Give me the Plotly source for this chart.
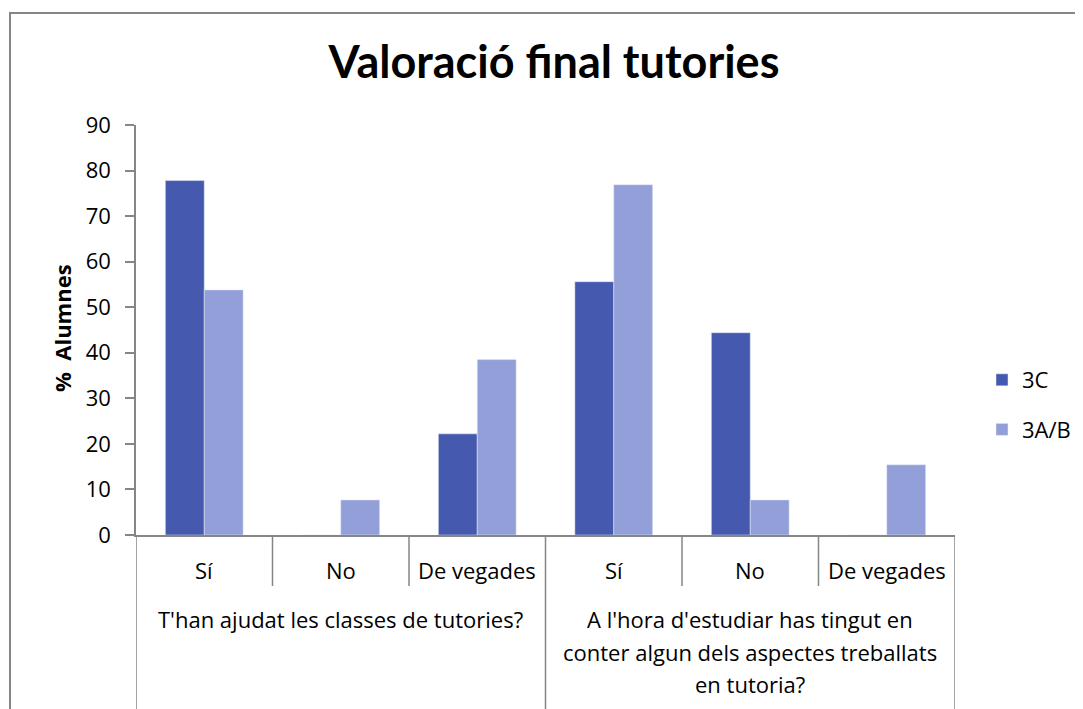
import plotly.graph_objects as go

# data
categories = ["Sí", "No", "De vegades", "Sí", "No", "De vegades"]
group_lines = [
    ["T'han ajudat les classes de tutories?"],
    ["A l'hora d'estudiar has tingut en",
     "conter algun dels aspectes treballats",
     "en tutoria?"],
]
group_size = 3
series_3c = [77.8, 0, 22.2, 55.6, 44.4, 0]
series_3ab = [53.8, 7.7, 38.5, 76.9, 7.7, 15.4]

# the page body has an 8px margin, so the figure starts at (8, 8)
OFF = 8
W, H = 1083 - OFF, 709 - OFF
L, R, T, B = 136, 955, 125, 535   # plot area, in screen pixels
FONT = "Open Sans"
TITLE_FONT = "Lato"
GRAY = "#868686"
FS = 22


def py(pix):
    # screen row -> paper y
    return (B - pix) / (B - T)


def px(pix):
    # screen column -> paper x
    return (pix - L) / (R - L)


xs = list(range(len(categories)))

fig = go.Figure()
fig.add_trace(go.Bar(x=xs, y=series_3c, name="3C", marker_color="#455AAE",
                     legendgroup="a"))
fig.add_trace(go.Bar(x=xs, y=series_3ab, name="3A/B", marker_color="#939FD8",
                     legendgroup="b"))

shapes = []
annotations = []

# subcategory labels and dividers
for i, c in enumerate(categories):
    annotations.append(dict(x=i, y=py(570), xref="x", yref="paper", text=c,
                            yanchor="middle", showarrow=False,
                            font=dict(size=FS, color="black")))
for i in range(len(categories) + 1):
    x = i - 0.5
    major = i % group_size == 0
    shapes.append(dict(type="line", xref="x", yref="paper", x0=x, x1=x,
                       y0=0, y1=py(730 if major else 586),
                       line=dict(color=GRAY, width=1.5)))

# group labels
for g, lines in enumerate(group_lines):
    cx = g * group_size + (group_size - 1) / 2
    for k, line in enumerate(lines):
        annotations.append(dict(x=cx, y=py(619 + 32.5 * k), xref="x", yref="paper",
                                text=line, yanchor="middle", showarrow=False,
                                font=dict(size=FS, color="black")))

# y axis title
annotations.append(dict(x=px(62), y=py(328), xref="paper", yref="paper",
                        text="<b>%  Alumnes</b>", textangle=-90, showarrow=False,
                        xanchor="center", yanchor="middle",
                        font=dict(size=FS, color="black")))

# chart border
shapes.append(dict(type="rect", xref="paper", yref="paper",
                   x0=px(10), x1=px(1110), y0=py(740), y1=py(13),
                   line=dict(color=GRAY, width=2)))

fig.update_layout(
    width=W, height=H,
    margin=dict(l=L - OFF, r=W - (R - OFF), t=T - OFF, b=H - (B - OFF),
                autoexpand=False),
    paper_bgcolor="white", plot_bgcolor="white",
    font=dict(family=FONT, size=FS, color="black"),
    title=dict(text="<b>Valoració final tutories</b>", x=px(554), xref="paper",
               xanchor="center", y=1 - (62 - OFF) / H, yanchor="middle",
               font=dict(family=TITLE_FONT, size=45, color="black")),
    barmode="group", bargap=0.43, bargroupgap=0,
    xaxis=dict(range=[-0.5, len(categories) - 0.5], showticklabels=False,
               showgrid=False, zeroline=False, showline=True, linecolor=GRAY,
               linewidth=1.5, ticks=""),
    yaxis=dict(range=[0, 90], dtick=10, showgrid=False, zeroline=False,
               showline=True, linecolor=GRAY, linewidth=1.5, ticks="outside",
               ticklen=9, tickcolor=GRAY, tickwidth=1.5, ticklabelstandoff=10,
               tickfont=dict(size=FS, color="black")),
    legend=dict(x=px(982), y=py(405), xanchor="left", yanchor="middle",
                tracegroupgap=18, font=dict(size=FS, color="black"),
                traceorder="grouped"),
    shapes=shapes, annotations=annotations,
)

fig.write_html("out.html")
